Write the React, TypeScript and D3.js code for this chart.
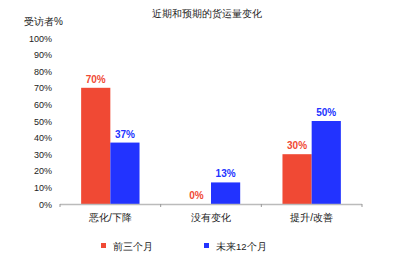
import React from "react";
import * as d3 from "d3";

const categories = ["恶化/下降", "没有变化", "提升/改善"];
const seriesNames = ["前三个月", "未来12个月"];
const recent = [70, 0, 30];
const future = [37, 13, 50];
const yTicks = [0, 10, 20, 30, 40, 50, 60, 70, 80, 90, 100];
const colors = ["#F04934", "#2233FF"];

export default function App() {
  const W = 398, H = 262;
  const left = 60, right = 362, top = 38, bottom = 204;
  const x0 = d3.scaleBand<string>().domain(categories).range([left, right]).paddingInner(0.42).paddingOuter(0.21);
  const x1 = d3.scaleBand<string>().domain(seriesNames).range([0, x0.bandwidth()]);
  const y = d3.scaleLinear().domain([0, 100]).range([bottom, top]);
  const step = (right - left) / categories.length;
  const font = "'Liberation Sans', Arial, sans-serif";
  const data = [recent, future];
  return (
    <svg width={W} height={H} style={{ position: "absolute", left: 0, top: 0, background: "#fff" }} fontFamily={font}>
      <text x={207} y={17} textAnchor="middle" fontSize={9.8} fill="#222">近期和预期的货运量变化</text>
      <text x={24} y={25} fontSize={10} fill="#222">受访者%</text>
      {yTicks.map((t) => (
        <text key={t} x={52} y={y(t) + 3.5} textAnchor="end" fontSize={9} fill="#222">{t}%</text>
      ))}
      {data.map((vals, si) =>
        categories.map((c, ci) => {
          const bx = (x0(c) as number) + (x1(seriesNames[si]) as number);
          const bw = x1.bandwidth();
          return (
            <g key={`${si}-${ci}`}>
              {vals[ci] > 0 && (
                <rect x={bx} y={y(vals[ci])} width={bw} height={bottom - y(vals[ci])} fill={colors[si]} />
              )}
              <text x={bx + bw / 2} y={y(vals[ci]) - 5} textAnchor="middle" fontSize={10} fontWeight="bold" fill={colors[si]}>{vals[ci]}%</text>
            </g>
          );
        })
      )}
      <line x1={left} x2={right} y1={bottom + 0.5} y2={bottom + 0.5} stroke="#bbb" strokeWidth={1.5} />
      {d3.range(categories.length + 1).map((i) => (
        <line key={i} x1={left + i * step} x2={left + i * step} y1={bottom} y2={bottom + 3} stroke="#999" strokeWidth={1} />
      ))}
      {categories.map((c) => (
        <text key={c} x={(x0(c) as number) + x0.bandwidth() / 2} y={221} textAnchor="middle" fontSize={10} fill="#222">{c}</text>
      ))}
      {seriesNames.map((s, i) => {
        const lx = [101, 204][i];
        return (
          <g key={s}>
            <rect x={lx} y={243} width={5} height={5} fill={colors[i]} />
            <text x={lx + 12} y={250} fontSize={9.5} fill="#222">{s}</text>
          </g>
        );
      })}
    </svg>
  );
}
